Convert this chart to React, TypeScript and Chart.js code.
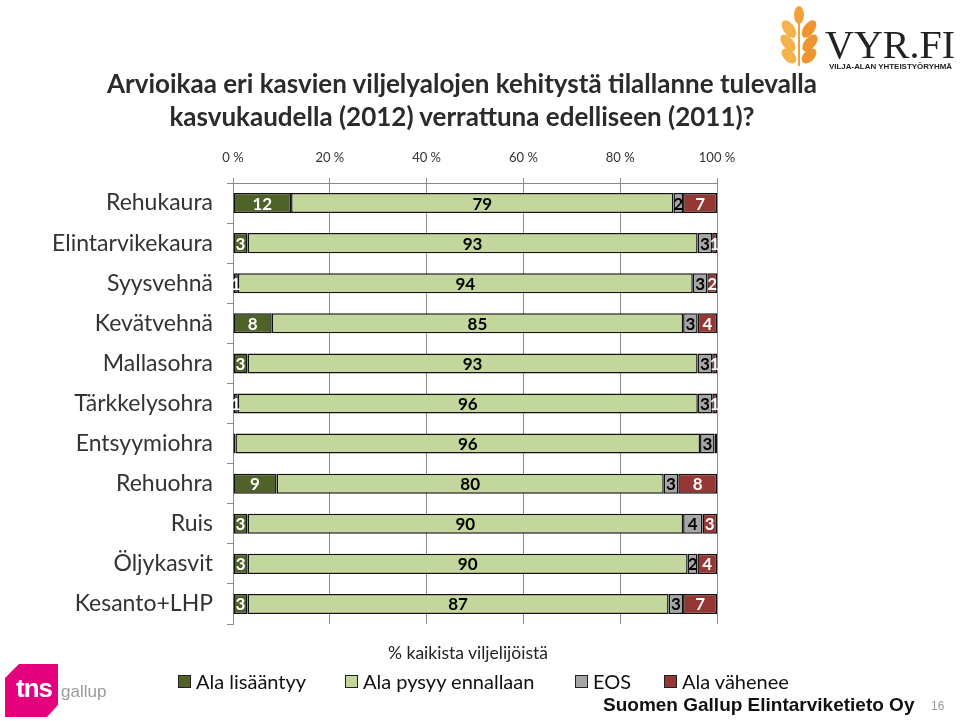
import React, { useEffect, useRef } from "react";
import { Chart, registerables } from "chart.js";

Chart.register(...registerables);

const categories = [
  "Rehukaura",
  "Elintarvikekaura",
  "Syysvehnä",
  "Kevätvehnä",
  "Mallasohra",
  "Tärkkelysohra",
  "Entsyymiohra",
  "Rehuohra",
  "Ruis",
  "Öljykasvit",
  "Kesanto+LHP",
];
const alaLisaantyy = [12, 3, 1, 8, 3, 1, 0.5, 9, 3, 3, 3];
const alaPysyy = [79, 93, 94, 85, 93, 96, 96, 80, 90, 90, 87];
const eos = [2, 3, 3, 3, 3, 3, 3, 3, 4, 2, 3];
const alaVahenee = [7, 1, 2, 4, 1, 1, 0.5, 8, 3, 4, 7];
const xTicks = [0, 20, 40, 60, 80, 100];

const seriesNames = ["Ala lisääntyy", "Ala pysyy ennallaan", "EOS", "Ala vähenee"];
const seriesColors = ["#4f6228", "#c3d69b", "#a6a6a6", "#953735"];
const labelColors = ["#ffffff", "#000000", "#000000", "#ffffff"];

const FONT = "Lato, 'Open Sans', sans-serif";

export default function App() {
  const ref = useRef<HTMLCanvasElement | null>(null);

  useEffect(() => {
    const raw = [alaLisaantyy, alaPysyy, eos, alaVahenee];
    const totals = categories.map((_, i) => raw.reduce((s, a) => s + a[i], 0));
    const datasets = raw.map((arr, k) => ({
      label: seriesNames[k],
      data: arr.map((v, i) => (v / totals[i]) * 100),
      backgroundColor: seriesColors[k],
      borderColor: "#111111",
      borderWidth: 1.5,
      borderSkipped: false as const,
      barPercentage: 0.5,
      categoryPercentage: 1,
    }));

    const labelPlugin = {
      id: "barLabels",
      afterDatasetsDraw(chart: any) {
        const ctx = chart.ctx;
        ctx.save();
        ctx.font = `bold 17px ${FONT}`;
        ctx.textAlign = "center";
        ctx.textBaseline = "middle";
        chart.data.datasets.forEach((ds: any, k: number) => {
          const meta = chart.getDatasetMeta(k);
          meta.data.forEach((el: any, i: number) => {
            const v = raw[k][i];
            if (v < 1) return;
            ctx.fillStyle = labelColors[k];
            const cx = (el.x + el.base) / 2;
            ctx.fillText(String(v), cx, el.y + 1);
          });
        });
        ctx.restore();
      },
    };

    const chart = new Chart(ref.current!, {
      type: "bar",
      data: { labels: categories, datasets },
      plugins: [labelPlugin],
      options: {
        animation: false,
        responsive: false,
        devicePixelRatio: 1,
        indexAxis: "y",
        layout: { padding: { left: 0, right: 243, top: 0, bottom: 97 } },
        plugins: {
          legend: { display: false },
          tooltip: { enabled: false },
        },
        scales: {
          x: {
            position: "top",
            stacked: true,
            min: 0,
            max: 100,
            afterFit: (s: any) => {
              s.height = 183;
            },
            afterBuildTicks: (s: any) => {
              s.ticks = xTicks.map((v) => ({ value: v }));
            },
            ticks: {
              callback: (v: any) => `${v} %`,
              font: { family: FONT, size: 13 },
              color: "#333333",
              padding: 12,
              maxRotation: 0,
            },
            grid: { color: "#8c8c8c", lineWidth: 1, tickLength: 5, drawTicks: true },
            border: { color: "#8c8c8c", width: 1 },
          },
          y: {
            stacked: true,
            afterFit: (s: any) => {
              s.width = 233;
            },
            ticks: {
              font: { family: FONT, size: 23 },
              color: "#333333",
              padding: 14,
            },
            grid: {
              drawOnChartArea: false,
              offset: true,
              tickLength: 6,
              color: "#8c8c8c",
            },
            border: { color: "#8c8c8c", width: 1 },
          },
        },
      },
    });
    return () => chart.destroy();
  }, []);

  const legendX = [178, 345, 575, 664];

  return (
    <div
      style={{
        position: "fixed",
        left: 0,
        top: 0,
        width: 960,
        height: 721,
        background: "#ffffff",
        overflow: "hidden",
        fontFamily: FONT,
      }}
    >
      <canvas ref={ref} width={960} height={721} style={{ position: "absolute", left: 0, top: 0 }} />
      <div
        style={{
          position: "absolute",
          left: 0,
          width: 924,
          top: 67,
          textAlign: "center",
          fontWeight: 700,
          fontSize: 26,
          lineHeight: "33px",
          color: "#2b2b2b",
          whiteSpace: "nowrap",
        }}
      >
        Arvioikaa eri kasvien viljelyalojen kehitystä tilallanne tulevalla
        <br />
        kasvukaudella (2012) verrattuna edelliseen (2011)?
      </div>
      <div
        style={{
          position: "absolute",
          left: 0,
          width: 936,
          top: 642,
          textAlign: "center",
          fontSize: 17.5,
          color: "#222",
        }}
      >
        % kaikista viljelijöistä
      </div>
      {seriesNames.map((n, k) => (
        <div
          key={n}
          style={{
            position: "absolute",
            left: legendX[k],
            top: 669,
            display: "flex",
            alignItems: "center",
            fontSize: 20,
            color: "#111",
            whiteSpace: "nowrap",
          }}
        >
          <span
            style={{
              display: "inline-block",
              width: 11,
              height: 11,
              background: seriesColors[k],
              border: "1px solid #222",
              marginRight: 5,
            }}
          />
          {n}
        </div>
      ))}
      <div
        style={{
          position: "absolute",
          left: 603,
          top: 694,
          fontFamily: "'Liberation Sans', Arial, sans-serif",
          fontWeight: 700,
          fontSize: 19,
          color: "#111",
          whiteSpace: "nowrap",
        }}
      >
        Suomen Gallup Elintarviketieto Oy
      </div>
      <div
        style={{
          position: "absolute",
          left: 931,
          top: 699,
          fontFamily: "'Liberation Sans', Arial, sans-serif",
          fontSize: 12,
          color: "#9a9a9a",
        }}
      >
        16
      </div>
      <svg width={960} height={721} style={{ position: "absolute", left: 0, top: 0, pointerEvents: "none" }}>
        {/* tns gallup logo */}
        <path d="M5,678 L19,664 L58,664 L58,705 L47,717 L5,717 Z" fill="#e5007d" />
        <text x={16} y={697} fill="#ffffff" fontFamily="'Liberation Sans', Arial, sans-serif" fontWeight={700} fontSize={26} letterSpacing={-1}>
          tns
        </text>
        <text x={61} y={697} fill="#9a9a9a" fontFamily="'Liberation Sans', Arial, sans-serif" fontSize={17}>
          gallup
        </text>
        {/* VYR.FI logo */}
        <g>
          <ellipse cx={799} cy={15} rx={5} ry={9} fill="#f2a23a" />
          <ellipse cx={789} cy={29} rx={5.5} ry={10} fill="#f6b24c" transform="rotate(-35 789 29)" />
          <ellipse cx={809} cy={29} rx={5.5} ry={10} fill="#ee9530" transform="rotate(35 809 29)" />
          <ellipse cx={788} cy={43} rx={5.5} ry={10} fill="#f6b24c" transform="rotate(-40 788 43)" />
          <ellipse cx={810} cy={43} rx={5.5} ry={10} fill="#ee9530" transform="rotate(40 810 43)" />
          <ellipse cx={789} cy={56} rx={5.5} ry={9} fill="#f6b24c" transform="rotate(-45 789 56)" />
          <ellipse cx={809} cy={56} rx={5.5} ry={9} fill="#ee9530" transform="rotate(45 809 56)" />
          <rect x={798} y={20} width={2} height={46} fill="#f0a040" />
          <text x={825} y={58} fill="#222" fontFamily="'Liberation Serif', 'DejaVu Serif', serif" fontSize={41} textLength={130} lengthAdjust="spacingAndGlyphs">
            VYR.FI
          </text>
          <text x={829} y={69} fill="#222" fontFamily="'Liberation Sans', Arial, sans-serif" fontWeight={700} fontSize={8} textLength={123} lengthAdjust="spacingAndGlyphs">
            VILJA-ALAN YHTEISTYÖRYHMÄ
          </text>
        </g>
      </svg>
    </div>
  );
}
